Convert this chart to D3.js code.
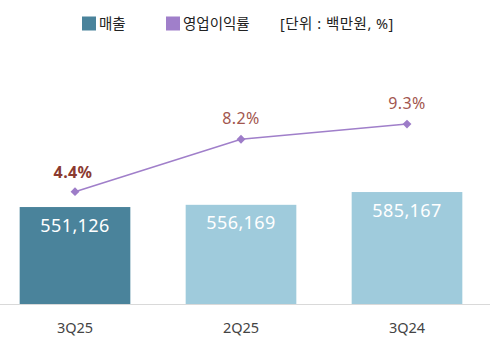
<!DOCTYPE html>
<html>
<head>
<meta charset="utf-8">
<script src="https://cdn.jsdelivr.net/npm/d3@7"></script>
<style>
  html, body { margin: 0; padding: 0; background: #fff; }
  svg { display: block; font-family: "Noto Sans", "Noto Sans CJK KR", sans-serif; }
</style>
</head>
<body>
<div id="chart"></div>
<script>
const quarters = ["3Q25", "2Q25", "3Q24"]
const sales = [551126, 556169, 585167]
const margins = [4.4, 8.2, 9.3]
const legendItems = [
  {label: "매출", color: "#4a839b"},
  {label: "영업이익률", color: "#a07fca"}
]
const unitNote = "[단위 : 백만원, %]"

const width = 500, height = 344, baseY = 304.5

const svg = d3.select("#chart").append("svg")
  .attr("width", width).attr("height", height)

const x = d3.scaleBand().domain(quarters).range([-8, 490])
  .paddingInner(1 / 3).paddingOuter(1 / 6)
const yBar = d3.scaleLinear().domain([330000, 600000]).range([baseY, 185.5])
const yLine = d3.scaleLinear().domain([0, 10]).range([252.4, 114.4])

// legend
const legend = svg.append("g").attr("class", "legend")
const lx = [82, 166]
legendItems.forEach((d, i) => {
  legend.append("rect").attr("x", lx[i]).attr("y", 16.5)
    .attr("width", 14).attr("height", 14).attr("fill", d.color)
  legend.append("text").attr("x", lx[i] + 17).attr("y", 29)
    .attr("font-size", 14.5).attr("fill", "#222").text(d.label)
})
legend.append("text").attr("x", 280).attr("y", 29)
  .attr("font-size", 14.5).attr("fill", "#222").attr("letter-spacing", 0.5)
  .text(unitNote)

// bars
const bars = svg.append("g").attr("class", "bars")
bars.selectAll("rect").data(quarters).join("rect")
  .attr("x", d => x(d))
  .attr("y", (d, i) => yBar(sales[i]))
  .attr("width", x.bandwidth())
  .attr("height", (d, i) => baseY - yBar(sales[i]))
  .attr("fill", (d, i) => i === 0 ? "#4a839b" : "#9fcbdc")

bars.selectAll("text").data(quarters).join("text")
  .attr("x", d => x(d) + x.bandwidth() / 2)
  .attr("y", (d, i) => yBar(sales[i]) + 24.5)
  .attr("text-anchor", "middle")
  .attr("font-size", 18)
  .attr("letter-spacing", 0.4)
  .attr("fill", "#fff")
  .text((d, i) => d3.format(",")(sales[i]))

// baseline
svg.append("line").attr("x1", 0).attr("x2", 490)
  .attr("y1", baseY).attr("y2", baseY)
  .attr("stroke", "#d9d9d9").attr("stroke-width", 1.2)

// category axis
const xAxis = svg.append("g").attr("transform", `translate(0,${baseY})`)
  .call(d3.axisBottom(x).tickSize(0).tickPadding(18))
xAxis.select(".domain").remove()
xAxis.selectAll("text").attr("font-size", 14.5).attr("fill", "#444")
  .attr("font-family", "\"Noto Sans\", sans-serif")

// margin line
const cx = d => x(d) + x.bandwidth() / 2
const line = d3.line().x(d => cx(d)).y((d, i) => yLine(margins[i]))
svg.append("path").datum(quarters)
  .attr("d", line)
  .attr("fill", "none").attr("stroke", "#a07fca").attr("stroke-width", 1.6)

svg.append("g").selectAll("path").data(quarters).join("path")
  .attr("d", d3.symbol(d3.symbolDiamond2, 50))
  .attr("transform", (d, i) => `translate(${cx(d)},${yLine(margins[i])})`)
  .attr("fill", "#9d7cc8")

svg.append("g").selectAll("text").data(quarters).join("text")
  .attr("x", (d, i) => cx(d) - (i === 0 ? 2 : 0))
  .attr("y", (d, i) => yLine(margins[i]) - (i === 0 ? 14 : 15.5))
  .attr("text-anchor", "middle")
  .attr("font-size", 16)
  .attr("letter-spacing", 0.4)
  .attr("font-weight", (d, i) => i === 0 ? 700 : 400)
  .attr("fill", (d, i) => i === 0 ? "#8b3a30" : "#a2564e")
  .text((d, i) => margins[i].toFixed(1) + "%")
</script>
</body>
</html>
